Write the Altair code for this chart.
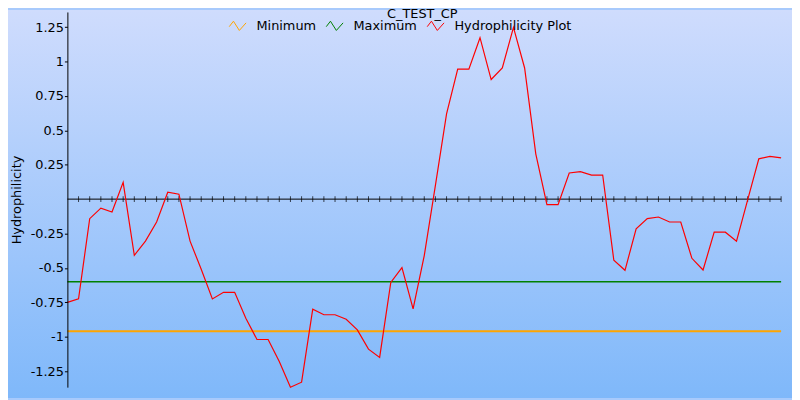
import altair as alt
import pandas as pd

# ---- data ----
chart_title = "C_TEST_CP"
y_title = "Hydrophilicity"
series_names = ["Minimum", "Maximum", "Hydrophilicity Plot"]
series_colors = ["#ffa500", "#008000", "#ff0000"]

positions = list(range(0, 65))
hydrophilicity = [
    -0.75, -0.725, -0.142, -0.065, -0.094, 0.122, -0.408, -0.305, -0.166, 0.050,
    0.036, -0.305, -0.51, -0.725, -0.677, -0.677, -0.865, -1.02, -1.02, -1.18,
    -1.367, -1.33, -0.80, -0.84, -0.84, -0.873, -0.95, -1.09, -1.15, -0.605,
    -0.497, -0.797, -0.41, 0.10, 0.62, 0.945, 0.945, 1.173, 0.869, 0.953,
    1.248, 0.953, 0.329, -0.04, -0.04, 0.19, 0.20, 0.175, 0.175, -0.444,
    -0.517, -0.216, -0.142, -0.13, -0.166, -0.166, -0.43, -0.515, -0.24, -0.24,
    -0.305, -0.005, 0.293, 0.31, 0.30,
]
threshold_names = ["Minimum", "Maximum"]
threshold_values = [-0.96, -0.60]
x_ticks = list(range(1, 65))
y_label_values = [1.25, 1, 0.75, 0.5, 0.25, -0.25, -0.5, -0.75, -1, -1.25]
y_domain = [-1.366, 1.36]
x_domain = [0, 64]

# ---- tables ----
line_df = pd.DataFrame({"pos": positions, "value": hydrophilicity,
                        "series": ["Hydrophilicity Plot"] * len(positions)})
rule_df = pd.DataFrame({"series": threshold_names, "value": threshold_values})
tick_df = pd.DataFrame({"t": x_ticks})
one_df = pd.DataFrame({"title": [chart_title]})

W, H = 721, 379
FONT = "DejaVu Sans"

xscale = alt.Scale(domain=x_domain, nice=False, zero=False)
yscale = alt.Scale(domain=y_domain, nice=False, zero=False)
yaxis = alt.Axis(
    values=y_label_values, labelExpr="'' + datum.value", grid=False,
    tickSize=3, labelPadding=1, domainColor="black", tickColor="black",
    domainWidth=1, tickWidth=1, labelFont=FONT, labelFontSize=13,
    labelColor="black", title=y_title, titleFont=FONT, titleFontSize=13,
    titleFontWeight="normal", titleColor="black", titleX=-44, titleY=H / 2,
    zindex=2,
)
color = alt.Color(
    "series:N",
    scale=alt.Scale(domain=series_names, range=series_colors),
    legend=alt.Legend(
        title=None, orient="none", legendX=163, legendY=5, direction="horizontal",
        symbolType="M-1,0.1 L-0.5,-0.55 L0.2,0.55 L1,-0.35",
        symbolSize=289, symbolStrokeWidth=1, symbolFillColor="transparent",
        labelFont=FONT, labelFontSize=13, labelColor="black", labelOffset=10,
        columnPadding=7, padding=0, labelLimit=300,
    ),
)

background = alt.Chart(one_df).mark_rect(
    color=alt.LinearGradient(
        gradient="linear",
        stops=[alt.GradientStop(color="#cfdcfd", offset=0),
               alt.GradientStop(color="#7fb8fa", offset=1)],
        x1=0, x2=0, y1=0, y2=1,
    )
).encode(x=alt.value(-60), x2=alt.value(W + 11), y=alt.value(-2), y2=alt.value(H + 11))

rules = alt.Chart(rule_df).mark_rule().encode(
    y=alt.Y("value:Q", scale=yscale, axis=yaxis),
    color=color,
    strokeWidth=alt.StrokeWidth("series:N", scale=alt.Scale(domain=threshold_names, range=[2, 1.4]), legend=None),
)

zero_line = alt.Chart(one_df).mark_rule(color="black", strokeWidth=1).encode(
    y=alt.Y(datum=0, type="quantitative", scale=yscale, axis=yaxis),
)

ticks = alt.Chart(tick_df).mark_tick(orient="vertical", size=6, thickness=1, color="black").encode(
    x=alt.X("t:Q", scale=xscale, axis=None),
    y=alt.Y(datum=0, type="quantitative", scale=yscale, axis=yaxis),
)

line = alt.Chart(line_df).mark_line(strokeWidth=1.2).encode(
    x=alt.X("pos:Q", scale=xscale, axis=None),
    y=alt.Y("value:Q", scale=yscale, axis=yaxis),
    color=color,
)

title = alt.Chart(one_df).mark_text(
    font=FONT, fontSize=13, color="black", align="center", baseline="alphabetic"
).encode(x=alt.value(W / 2 - 2), y=alt.value(6), text="title:N")

chart = alt.layer(background, rules, zero_line, ticks, line, title).properties(
    width=W, height=H,
    autosize=alt.AutoSizeParams(type="none"),
    padding={"left": 60, "top": 2, "right": 11, "bottom": 11},
    background="#a8cafc",
).configure_view(strokeOpacity=0)

chart.save("out.html", embed_options={"renderer": "svg", "actions": False})
